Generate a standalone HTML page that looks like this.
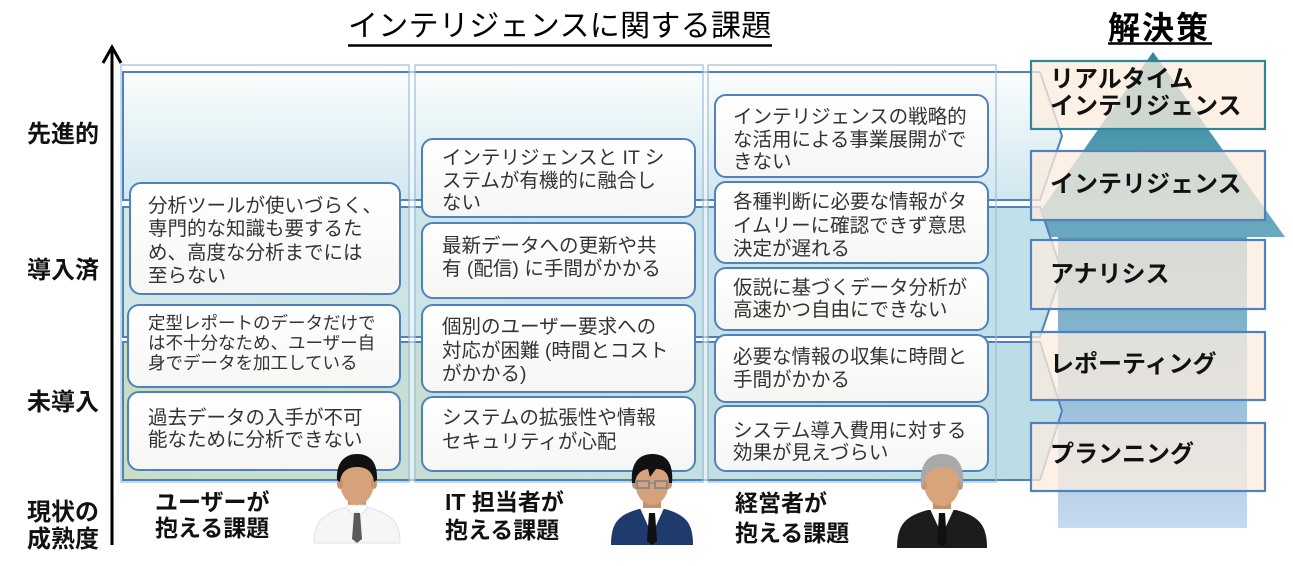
<!DOCTYPE html>
<html lang="ja">
<head>
<meta charset="utf-8">
<style>
  html,body{margin:0;padding:0;background:#fff;}
  body{width:1293px;height:566px;position:relative;overflow:hidden;
       font-family:"Liberation Sans","Noto Sans CJK JP",sans-serif;}
  svg{position:absolute;left:0;top:0;}
  .t{position:absolute;white-space:nowrap;color:#333;}
  .ax{position:absolute;white-space:nowrap;font-weight:bold;font-size:24px;line-height:28px;color:#111;left:27px;}
  .lb{position:absolute;white-space:nowrap;font-weight:bold;font-size:23px;color:#111;}
  .sol{position:absolute;white-space:nowrap;font-weight:bold;font-size:24px;color:#111;left:1050px;}
</style>
</head>
<body>
<svg width="1293" height="566" viewBox="0 0 1293 566" xmlns="http://www.w3.org/2000/svg">
  <defs>
    <linearGradient id="bg1" x1="0" y1="0" x2="0" y2="1">
      <stop offset="0" stop-color="#fbfdfd"/>
      <stop offset="1" stop-color="#d0e7ef"/>
    </linearGradient>
    <linearGradient id="bg2" x1="0" y1="0" x2="1" y2="0">
      <stop offset="0" stop-color="#d2e6e4"/>
      <stop offset="1" stop-color="#c0e0ea"/>
    </linearGradient>
    <linearGradient id="bg3" x1="0" y1="0" x2="1" y2="0">
      <stop offset="0" stop-color="#c9ddc6"/>
      <stop offset="0.6" stop-color="#c3dfe0"/>
      <stop offset="1" stop-color="#bcdde7"/>
    </linearGradient>
    <linearGradient id="boxg" x1="0" y1="0" x2="0" y2="1">
      <stop offset="0" stop-color="#ffffff"/>
      <stop offset="1" stop-color="#f6f7f4"/>
    </linearGradient>
    <linearGradient id="shaft" x1="0" y1="237" x2="0" y2="528" gradientUnits="userSpaceOnUse">
      <stop offset="0" stop-color="#5e9db8"/>
      <stop offset="0.28" stop-color="#80b2cb"/>
      <stop offset="0.6" stop-color="#9fc2dd"/>
      <stop offset="1" stop-color="#c6daf0"/>
    </linearGradient>
    <linearGradient id="tri" x1="0" y1="52" x2="0" y2="237" gradientUnits="userSpaceOnUse">
      <stop offset="0" stop-color="#2f8799"/>
      <stop offset="1" stop-color="#6aa9c1"/>
    </linearGradient>
  </defs>

  <!-- Title underlines -->
  <line x1="348" y1="45.5" x2="772" y2="45.5" stroke="#000" stroke-width="2.5"/>
  <line x1="1108" y1="43.5" x2="1212" y2="43.5" stroke="#000" stroke-width="2.5"/>

  <!-- Y axis -->
  <line x1="112" y1="49" x2="112" y2="545" stroke="#000" stroke-width="3"/>
  <polyline points="103,63 112,47 121,63" fill="none" stroke="#000" stroke-width="3" stroke-linejoin="miter"/>

  <!-- Right arrow (shaft + head) -->
  <rect x="1058" y="236" width="189" height="292" fill="url(#shaft)"/>
  <polygon points="1153,52 1285,237 1022,237" fill="url(#tri)"/>

  <!-- Bands -->
  <path d="M123,72 L1040,72 L1062,136 L1040,200 L123,200 Z" fill="url(#bg1)" stroke="#4f81bd" stroke-width="2"/>
  <path d="M123,207 L1040,207 L1062,272 L1040,337 L123,337 Z" fill="url(#bg2)" stroke="#4f81bd" stroke-width="2"/>
  <path d="M123,342 L1040,342 L1062,411 L1040,480 L123,480 Z" fill="url(#bg3)" stroke="#4f81bd" stroke-width="2"/>

  <!-- Column outlines -->
  <rect x="410" y="65" width="4" height="417" fill="#fff" opacity="0.55"/>
  <rect x="704" y="65" width="3" height="417" fill="#fff" opacity="0.55"/>
  <rect x="121" y="65" width="288" height="417" fill="none" stroke="#9dbde0" stroke-width="1.2"/>
  <rect x="415" y="65" width="288" height="417" fill="none" stroke="#9dbde0" stroke-width="1.2"/>
  <rect x="708" y="65" width="288" height="417" fill="none" stroke="#9dbde0" stroke-width="1.2"/>

  <!-- Text boxes col1 -->
  <rect x="130" y="183" width="270" height="111" rx="11" fill="url(#boxg)" stroke="#4f81bd" stroke-width="2"/>
  <rect x="128" y="305" width="272" height="82" rx="11" fill="url(#boxg)" stroke="#4f81bd" stroke-width="2"/>
  <rect x="128" y="392" width="272" height="78" rx="11" fill="url(#boxg)" stroke="#4f81bd" stroke-width="2"/>
  <!-- col2 -->
  <rect x="422" y="139" width="273" height="78" rx="11" fill="url(#boxg)" stroke="#4f81bd" stroke-width="2"/>
  <rect x="422" y="223" width="273" height="75" rx="11" fill="url(#boxg)" stroke="#4f81bd" stroke-width="2"/>
  <rect x="422" y="305" width="273" height="87" rx="11" fill="url(#boxg)" stroke="#4f81bd" stroke-width="2"/>
  <rect x="422" y="397" width="273" height="74" rx="11" fill="url(#boxg)" stroke="#4f81bd" stroke-width="2"/>
  <!-- col3 -->
  <rect x="715" y="95" width="273" height="82" rx="11" fill="url(#boxg)" stroke="#4f81bd" stroke-width="2"/>
  <rect x="715" y="182" width="273" height="81" rx="11" fill="url(#boxg)" stroke="#4f81bd" stroke-width="2"/>
  <rect x="715" y="268" width="273" height="62" rx="11" fill="url(#boxg)" stroke="#4f81bd" stroke-width="2"/>
  <rect x="715" y="335" width="273" height="67" rx="11" fill="url(#boxg)" stroke="#4f81bd" stroke-width="2"/>
  <rect x="715" y="406" width="273" height="65" rx="11" fill="url(#boxg)" stroke="#4f81bd" stroke-width="2"/>

  <!-- Solution boxes -->
  <rect x="1031" y="61" width="234" height="68" fill="rgba(253,236,222,0.76)" stroke="#31859c" stroke-width="2.2"/>
  <rect x="1031" y="151" width="234" height="69" fill="rgba(253,236,222,0.76)" stroke="#4f81bd" stroke-width="2.2"/>
  <rect x="1031" y="240" width="234" height="69" fill="rgba(253,236,222,0.76)" stroke="#4f81bd" stroke-width="2.2"/>
  <rect x="1031" y="332" width="234" height="68" fill="rgba(253,236,222,0.76)" stroke="#4f81bd" stroke-width="2.2"/>
  <rect x="1031" y="423" width="234" height="68" fill="rgba(253,236,222,0.76)" stroke="#4f81bd" stroke-width="2.2"/>

  <!-- Person 1 (user, white shirt) -->
  <g transform="translate(357,455)">
    <path d="M-43,88 C-43,68 -36,60 -14,53 L14,53 C36,60 43,68 43,88 Z" fill="#f5f6f7" stroke="#e0e2e4" stroke-width="1"/>
    <rect x="-9" y="40" width="18" height="16" fill="#c48f6a"/>
    <path d="M-11,53 L-3,60 L0,56 L3,60 L11,53 L9,50 L-9,50 Z" fill="#ffffff" stroke="#dcdcdc" stroke-width="0.8"/>
    <path d="M-3,58 L3,58 L5,84 L0,88 L-5,84 Z" fill="#5a5a5a"/>
    <ellipse cx="0" cy="27" rx="17" ry="23" fill="#d6a27b"/>
    <ellipse cx="-17" cy="29" rx="3" ry="5" fill="#c8926c"/>
    <ellipse cx="17" cy="29" rx="3" ry="5" fill="#c8926c"/>
    <path d="M-20,25 C-21,5 -10,-1 0,-1 C11,-1 21,5 20,25 L17,27 C16,17 10,12 0,12 C-10,12 -16,17 -17,27 Z" fill="#111"/>
  </g>

  <!-- Person 2 (IT, navy suit, glasses) -->
  <g transform="translate(652,455)">
    <path d="M-41,90 C-41,68 -34,60 -13,54 L13,54 C34,60 41,68 41,90 Z" fill="#1f3a6c"/>
    <rect x="-9" y="40" width="18" height="16" fill="#c48f6a"/>
    <path d="M-12,53 L0,80 L12,53 Z" fill="#ffffff"/>
    <path d="M-3,58 L3,58 L5,86 L0,90 L-5,86 Z" fill="#111"/>
    <ellipse cx="0" cy="27" rx="17" ry="23" fill="#d6a27b"/>
    <ellipse cx="-17" cy="29" rx="3" ry="5" fill="#c8926c"/>
    <ellipse cx="17" cy="29" rx="3" ry="5" fill="#c8926c"/>
    <path d="M-20,28 C-22,5 -10,-1 0,-1 C12,-1 22,5 20,28 L17,28 C17,18 12,14 4,14 L-2,22 L-4,14 C-11,15 -16,19 -17,28 Z" fill="#111"/>
    <rect x="-15" y="26" width="12" height="7" fill="none" stroke="#8a8a8a" stroke-width="2"/>
    <rect x="3" y="26" width="12" height="7" fill="none" stroke="#8a8a8a" stroke-width="2"/>
    <line x1="-3" y1="28" x2="3" y2="28" stroke="#8a8a8a" stroke-width="1.5"/>
  </g>

  <!-- Person 3 (executive, black suit, gray hair) -->
  <g transform="translate(942,455)">
    <path d="M-45,93 C-45,70 -37,61 -14,55 L14,55 C37,61 45,70 45,93 Z" fill="#1c1c1c"/>
    <rect x="-9" y="40" width="18" height="17" fill="#c48f6a"/>
    <path d="M-12,54 L0,80 L12,54 Z" fill="#ffffff"/>
    <path d="M-3,58 L3,58 L5,88 L0,92 L-5,88 Z" fill="#111"/>
    <ellipse cx="0" cy="28" rx="18" ry="23" fill="#d8a47c"/>
    <ellipse cx="-18" cy="30" rx="3" ry="5" fill="#c8926c"/>
    <ellipse cx="18" cy="30" rx="3" ry="5" fill="#c8926c"/>
    <path d="M-21,30 C-23,5 -10,-1 0,-1 C11,-1 23,5 21,30 L18,30 C17,18 11,12 0,12 C-11,12 -17,18 -18,30 Z" fill="#a9a9a9"/>
  </g>
</svg>

<!-- Titles -->
<div class="t" style="left:348px;top:7px;font-size:30px;line-height:40px;color:#000;letter-spacing:0.3px;">インテリジェンスに関する課題</div>
<div class="t" style="left:1108px;top:8px;font-size:32px;line-height:40px;color:#000;font-weight:bold;letter-spacing:2px;">解決策</div>

<!-- Axis labels -->
<div class="ax" style="top:121px;">先進的</div>
<div class="ax" style="top:257px;">導入済</div>
<div class="ax" style="top:389px;">未導入</div>
<div class="ax" style="top:499px;">現状の</div>
<div class="ax" style="top:526px;">成熟度</div>

<!-- Column 1 texts -->
<div class="t" style="left:148px;top:195px;font-size:19.5px;line-height:23.3px;">分析ツールが使いづらく、<br>専門的な知識も要するた<br>め、高度な分析までには<br>至らない</div>
<div class="t" style="left:148px;top:313px;font-size:17.5px;line-height:20px;">定型レポートのデータだけで<br>は不十分なため、ユーザー自<br>身でデータを加工している</div>
<div class="t" style="left:148px;top:407px;font-size:19.5px;line-height:22px;">過去データの入手が不可<br>能なために分析できない</div>

<!-- Column 2 texts -->
<div class="t" style="left:442px;top:147px;font-size:19.5px;line-height:22.5px;">インテリジェンスと IT シ<br>ステムが有機的に融合し<br>ない</div>
<div class="t" style="left:442px;top:235px;font-size:19.5px;line-height:23px;">最新データへの更新や共<br>有 (配信) に手間がかかる</div>
<div class="t" style="left:442px;top:316px;font-size:19.5px;line-height:23.5px;">個別のユーザー要求への<br>対応が困難 (時間とコスト<br>がかかる)</div>
<div class="t" style="left:442px;top:406px;font-size:19.5px;line-height:24px;">システムの拡張性や情報<br>セキュリティが心配</div>

<!-- Column 3 texts -->
<div class="t" style="left:733px;top:106px;font-size:19.5px;line-height:22.5px;">インテリジェンスの戦略的<br>な活用による事業展開がで<br>きない</div>
<div class="t" style="left:733px;top:191px;font-size:19.5px;line-height:23.5px;">各種判断に必要な情報がタ<br>イムリーに確認できず意思<br>決定が遅れる</div>
<div class="t" style="left:733px;top:277px;font-size:19.5px;line-height:22px;">仮説に基づくデータ分析が<br>高速かつ自由にできない</div>
<div class="t" style="left:733px;top:346px;font-size:19.5px;line-height:23px;">必要な情報の収集に時間と<br>手間がかかる</div>
<div class="t" style="left:733px;top:421px;font-size:19.5px;line-height:21.5px;">システム導入費用に対する<br>効果が見えづらい</div>

<!-- Bottom labels -->
<div class="lb" style="left:155px;top:489px;line-height:26px;">ユーザーが<br>抱える課題</div>
<div class="lb" style="left:445px;top:488px;line-height:28px;">IT 担当者が<br>抱える課題</div>
<div class="lb" style="left:735px;top:488px;line-height:30px;">経営者が<br>抱える課題</div>

<!-- Solution labels -->
<div class="sol" style="top:66px;line-height:27px;">リアルタイム<br>インテリジェンス</div>
<div class="sol" style="top:171px;line-height:28px;">インテリジェンス</div>
<div class="sol" style="top:261px;line-height:28px;">アナリシス</div>
<div class="sol" style="top:351px;line-height:28px;">レポーティング</div>
<div class="sol" style="top:441px;line-height:28px;">プランニング</div>
</body>
</html>
